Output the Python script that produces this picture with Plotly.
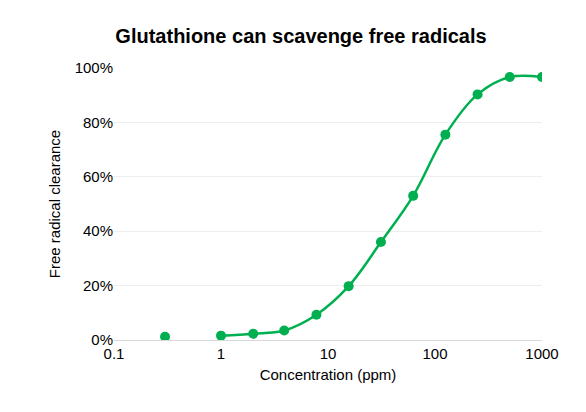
import plotly.graph_objects as go

conc = [0.3, 1, 2, 3.9, 7.8, 15.6, 31.25, 62.5, 125, 250, 500, 1000]
clearance = [0.012, 0.016, 0.023, 0.035, 0.093, 0.198, 0.36, 0.53, 0.755, 0.903, 0.967, 0.967]

green = "#00B050"

fig = go.Figure()
fig.add_trace(go.Scatter(x=conc[1:], y=clearance[1:], mode="lines",
                         line=dict(color=green, width=2.5, shape="spline"),
                         hoverinfo="skip"))
fig.add_trace(go.Scatter(x=conc, y=clearance, mode="markers",
                         marker=dict(color=green, size=10)))

fig.update_layout(
    width=586, height=412,
    margin=dict(l=106, r=52, t=60, b=80),
    plot_bgcolor="white", paper_bgcolor="white",
    showlegend=False,
    font=dict(family="Liberation Sans, Arial", size=15, color="#000000"),
    title=dict(text="<b>Glutathione can scavenge free radicals</b>",
               x=0.5, xanchor="center", y=0.95, font=dict(size=20)),
)
fig.update_xaxes(type="log", range=[-1, 3], tickvals=[0.1, 1, 10, 100, 1000],
                 ticktext=["0.1", "1", "10", "100", "1000"],
                 showgrid=False, showline=True, linecolor="#d9d9d9",
                 title=dict(text="Concentration (ppm)", standoff=8, font=dict(size=15)))
fig.update_yaxes(range=[0, 1.0], tickvals=[0, 0.2, 0.4, 0.6, 0.8, 1.0],
                 tickformat=".0%", showgrid=True, gridcolor="#eeeeee",
                 zeroline=False, ticksuffix=" ",
                 title=dict(text="Free radical clearance", standoff=10, font=dict(size=15)))

fig.write_html("out.html")
